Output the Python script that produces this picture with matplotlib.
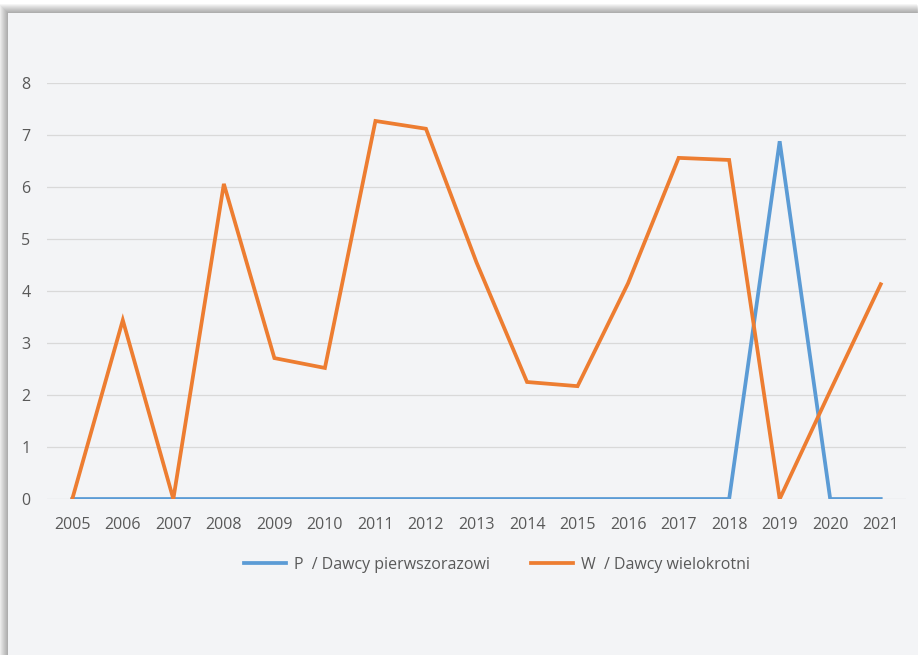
import matplotlib.pyplot as plt
from matplotlib.patches import Rectangle

years = [str(y) for y in range(2005, 2022)]
first_time = [0, 0, 0, 0, 0, 0, 0, 0, 0, 0, 0, 0, 0, 0, 6.88, 0, 0]
repeat = [0, 3.44, 0, 6.06, 2.71, 2.52, 7.27, 7.12, 4.55, 2.25, 2.17, 4.15,
          6.56, 6.52, 0, 2.08, 4.13]
labels = ['P  / Dawcy pierwszorazowi', 'W  / Dawcy wielokrotni']

W, H = 918, 655
plt.rcParams['font.family'] = ['Open Sans', 'DejaVu Sans']

fig = plt.figure(figsize=(W / 100, H / 100), dpi=100)
fig.patch.set_facecolor('white')

# panel with soft shadow on top/left
px, py = 8, 13
for i in range(9, 0, -1):
    fig.patches.append(Rectangle(((px - i) / W, 0), 1.0, 1 - (py - i) / H,
                                 transform=fig.transFigure, facecolor='black',
                                 alpha=0.04, edgecolor='none', zorder=-2))
fig.patches.append(Rectangle((px / W, 0), 1.0, 1 - py / H,
                             transform=fig.transFigure, facecolor='#f3f4f6',
                             edgecolor='none', zorder=-1))

ax = fig.add_axes([47 / W, 1 - 499 / H, (906 - 47) / W, (499 - 83) / H])
ax.set_zorder(2)
ax.set_facecolor('none')

x = range(len(years))
ax.plot(x, first_time, color='#5b9bd5', lw=2.7, label=labels[0],
        solid_joinstyle='miter', zorder=3)
ax.plot(x, repeat, color='#ed7d31', lw=2.7, label=labels[1],
        solid_joinstyle='miter', zorder=3)

ax.set_xlim(-0.5, len(years) - 0.5)
ax.set_ylim(0, 8)
ax.set_yticks(range(0, 9))
ax.set_xticks(list(x))
ax.set_xticklabels(years)
ax.grid(axis='y', color='#d9d9d9', lw=0.9)
ax.set_axisbelow(True)
for s in ax.spines.values():
    s.set_visible(False)
ax.tick_params(length=0, labelsize=11.5, labelcolor='#595959')
ax.tick_params(axis='y', pad=12)
ax.tick_params(axis='x', pad=13)

leg = ax.legend(loc='center', bbox_to_anchor=(497 / W, 1 - 565 / H),
                bbox_transform=fig.transFigure, ncol=2, frameon=False,
                fontsize=11.5, handlelength=2.6, columnspacing=2.6,
                handletextpad=0.5)
for t in leg.get_texts():
    t.set_color('#595959')

fig.savefig('out.png', dpi=100)
